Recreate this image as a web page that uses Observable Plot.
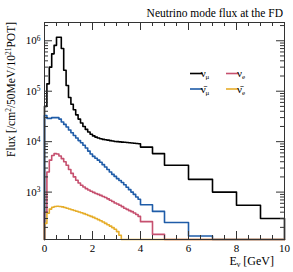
<!DOCTYPE html>
<html><head><meta charset="utf-8">
<script src="https://cdn.jsdelivr.net/npm/d3@7"></script>
<script src="https://cdn.jsdelivr.net/npm/@observablehq/plot@0.6"></script>
<style>
body{margin:0;background:#fff}
svg{font-family:"Liberation Serif",serif}
</style></head><body><div id="chart"></div>
<script>
// Bin edges [GeV]
const binEdges = [0,0.1,0.2,0.3,0.4,0.5,0.6,0.7,0.8,0.9,1.0,1.1,1.2,1.3,1.4,1.5,1.6,1.7,1.8,1.9,
  2.0,2.1,2.2,2.3,2.4,2.5,2.6,2.7,2.8,2.9,3.0,3.1,3.2,3.3,3.4,3.5,3.6,3.7,3.8,3.9,4.0,4.5,5,6,7,8,9,10];
// Flux per bin
const numu = [5.0e4,1.4e5,3.0e5,5.5e5,8.1e5,1.17e6,1.17e6,7.0e5,2.6e5,1.3e5,
  7.5e4,5.5e4,4.3e4,3.4e4,2.8e4,2.35e4,2.0e4,1.75e4,1.55e4,1.4e4,
  1.3e4,1.23e4,1.18e4,1.14e4,1.11e4,1.09e4,1.07e4,1.05e4,1.03e4,1.01e4,
  1.0e4,9900,9800,9700,9600,9500,9400,9300,9200,9100,
  7800,5800,3400,1790,1000,550,300];
const anumu = [3.3e4,2.9e4,2.9e4,3.0e4,3.0e4,3.0e4,2.8e4,2.45e4,2.2e4,1.95e4,
  1.7e4,1.5e4,1.32e4,1.18e4,1.05e4,9500,8500,7500,6500,5700,
  5100,4700,4300,3900,3500,3150,2800,2500,2250,2050,
  1850,1700,1550,1400,1250,1120,1000,900,800,720,
  560,415,250,135,0,0,0];
const nue = [400,2500,4300,5300,5800,5700,5200,4600,4000,3400,
  2800,2350,2000,1720,1520,1370,1260,1170,1100,1040,
  990,940,900,860,820,780,735,690,650,610,
  580,550,515,480,455,430,410,385,360,330,
  260,145,0,0,0,0,0];
const anue = [240,380,460,500,520,525,520,510,495,480,
  462,447,432,418,404,390,375,360,345,330,
  315,300,285,270,255,240,226,212,198,183,
  165,140,0,0,0,0,0,0,0,0,
  0,0,0,0,0,0,0];

const seriesNames = ["numu","anumu","nue","anue"];
const seriesColors = {numu:"#000000", anumu:"#1f5ca8", nue:"#c6506f", anue:"#e6ad2a"};

const xMajorTicks = [0,2,4,6,8,10];
const xMinorTicks = [0.5,1,1.5,2.5,3,3.5,4.5,5,5.5,6.5,7,7.5,8.5,9,9.5];
const yMajorTicks = [1e3,1e4,1e5,1e6];
const yMinorTicks = [200,300,400,500,600,700,800,900,
  2000,3000,4000,5000,6000,7000,8000,9000,
  2e4,3e4,4e4,5e4,6e4,7e4,8e4,9e4,
  2e5,3e5,4e5,5e5,6e5,7e5,8e5,9e5,2e6];
const yDomain = [115, 2.3e6];
const xDomain = [0, 10];

const W = 293, H = 272, mL = 44, mR = 9, mT = 22, mB = 33;
const iW = W - mL - mR, iH = H - mT - mB;

function histPoints(vals){
  const last = binEdges.length - 1;
  const pts = [{x: binEdges[0], y: 0}];
  vals.forEach((v,i) => pts.push({x: binEdges[i], y: v}));
  pts.push({x: binEdges[last], y: vals[vals.length-1]});
  pts.push({x: binEdges[last], y: 0});
  return pts;
}
const data = {numu, anumu, nue, anue};
const clampY = d => Math.max(d.y, yDomain[0]);

const majT = 8, minT = 4;
const plot = Plot.plot({
  width: W, height: H,
  marginLeft: mL, marginRight: mR, marginTop: mT, marginBottom: mB,
  style: {fontFamily: "Liberation Serif, serif", fontSize: "11px", background: "#fff"},
  x: {domain: xDomain},
  y: {type: "log", domain: yDomain},
  marks: [
    ...seriesNames.map(s => Plot.line(histPoints(data[s]), {x: "x", y: clampY, curve: "step-after", stroke: seriesColors[s], strokeWidth: 1.6})),
    Plot.frame({stroke: "#333", strokeWidth: 1}),
    // inward ticks on all sides
    Plot.tickX(xMajorTicks, {x: d => d, insetTop: iH - majT, stroke: "#333"}),
    Plot.tickX(xMajorTicks, {x: d => d, insetBottom: iH - majT, stroke: "#333"}),
    Plot.tickX(xMinorTicks, {x: d => d, insetTop: iH - minT, stroke: "#333"}),
    Plot.tickX(xMinorTicks, {x: d => d, insetBottom: iH - minT, stroke: "#333"}),
    Plot.tickY(yMajorTicks, {y: d => d, insetRight: iW - majT, stroke: "#333"}),
    Plot.tickY(yMajorTicks, {y: d => d, insetLeft: iW - majT, stroke: "#333"}),
    Plot.tickY(yMinorTicks, {y: d => d, insetRight: iW - minT, stroke: "#333"}),
    Plot.tickY(yMinorTicks, {y: d => d, insetLeft: iW - minT, stroke: "#333"}),
    Plot.axisX(xMajorTicks, {tickSize: 0, tickPadding: 5, label: null, tickFormat: d => String(d)}),
    Plot.axisY(yMajorTicks, {tickSize: 0, tickPadding: 4, label: null, tickFormat: d => String(Math.round(Math.log10(d)))})
  ]
});
document.getElementById("chart").appendChild(plot);

const svg = d3.select(plot);
// superscript exponents on y tick labels
svg.selectAll('g[aria-label="y-axis tick label"] text').each(function(){
  const t = d3.select(this); const e = t.text(); t.text("");
  t.append("tspan").text("10");
  t.append("tspan").attr("dy","-0.45em").attr("font-size","7.5px").text(e);
});

const txt = (x, y, anchor, size) => svg.append("text").attr("x", x).attr("y", y)
  .attr("text-anchor", anchor).attr("font-size", size).attr("fill", "#000");

// Title
txt(283, 17, "end", "11.5px").text("Neutrino mode flux at the FD");
// X label
const xl = txt(274, 265, "end", "12px");
xl.append("tspan").text("E");
xl.append("tspan").attr("dy", "2").attr("font-size", "8px").text("\u03BD");
xl.append("tspan").attr("dy", "-2").text(" [GeV]");
// Y label
const yl = svg.append("text").attr("transform", "translate(15,22) rotate(-90)")
  .attr("text-anchor", "end").attr("font-size", "11.5px").attr("fill", "#000");
yl.append("tspan").text("Flux [/cm");
yl.append("tspan").attr("dy", "-4").attr("font-size", "7.5px").text("2");
yl.append("tspan").attr("dy", "4").text("/50MeV/10");
yl.append("tspan").attr("dy", "-4").attr("font-size", "7.5px").text("21");
yl.append("tspan").attr("dy", "4").text("POT]");

// Legend
const legendItems = [
  {s: "numu", label: "\u03BD", sub: "\u03BC", col: 0, row: 0},
  {s: "nue", label: "\u03BD", sub: "e", col: 1, row: 0},
  {s: "anumu", label: "\u03BD\u0304", sub: "\u03BC", col: 0, row: 1},
  {s: "anue", label: "\u03BD\u0304", sub: "e", col: 1, row: 1}
];
const lg = svg.append("g");
legendItems.forEach(it => {
  const x0 = 190 + it.col * 36, y0 = 73.5 + it.row * 15.5;
  lg.append("line").attr("x1", x0).attr("x2", x0 + 12.5).attr("y1", y0).attr("y2", y0)
    .attr("stroke", seriesColors[it.s]).attr("stroke-width", 1.6);
  const t = lg.append("text").attr("x", x0 + 15).attr("y", y0 + 3.5).attr("font-size", "11px").attr("fill", "#000");
  t.append("tspan").text(it.label);
  t.append("tspan").attr("dy", "2").attr("font-size", "7px").text(it.sub);
});
</script></body></html>
